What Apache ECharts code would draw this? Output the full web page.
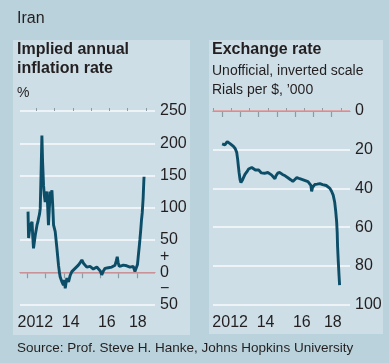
<!DOCTYPE html>
<html>
<head>
<meta charset="utf-8">
<script src="https://cdn.jsdelivr.net/npm/echarts@6/dist/echarts.min.js"></script>
<style>
  html, body { margin: 0; padding: 0; background: #bad2db; }
  #chart { width: 389px; height: 363px; }
</style>
</head>
<body>
<div id="chart"></div>
<script>
// Implied annual inflation rate, % (decimal year, value)
const inflationYears = [
  2012.04, 2012.07, 2012.10, 2012.16, 2012.22, 2012.26, 2012.30, 2012.34, 2012.40, 2012.44,
  2012.50, 2012.53, 2012.58, 2012.62, 2012.67, 2012.71, 2012.76, 2012.80, 2012.84, 2012.89,
  2012.93, 2012.98, 2013.03, 2013.08, 2013.12, 2013.16, 2013.21, 2013.26, 2013.31, 2013.35,
  2013.40, 2013.44, 2013.53, 2013.62, 2013.71, 2013.76, 2013.80, 2013.85, 2013.90, 2013.98,
  2014.03, 2014.08, 2014.13, 2014.17, 2014.22, 2014.26, 2014.35, 2014.44, 2014.53, 2014.62,
  2014.71, 2014.80, 2014.90, 2014.99, 2015.08, 2015.17, 2015.26, 2015.35, 2015.44, 2015.53,
  2015.62, 2015.72, 2015.81, 2015.90, 2016.00, 2016.08, 2016.17, 2016.26, 2016.35, 2016.44,
  2016.54, 2016.63, 2016.72, 2016.81, 2016.88, 2016.93, 2016.98, 2017.04, 2017.15, 2017.26,
  2017.35, 2017.45, 2017.54, 2017.63, 2017.72, 2017.81, 2017.90, 2017.95, 2017.99, 2018.04,
  2018.08, 2018.13, 2018.17, 2018.22, 2018.26, 2018.30, 2018.32, 2018.35, 2018.39, 2018.40
];
const inflationValues = [
  94, 53, 60, 73, 70, 78, 55, 37, 50, 58,
  68, 73, 78, 84, 90, 99, 160, 212, 170, 135,
  120, 109, 118, 125, 100, 73, 100, 125, 120, 127,
  100, 73, 63, 38, 11, 0, -7, -10, -15, -20,
  -12, -25, -15, -9, -12, -15, -5, 1, 3, 6,
  9, 11, 15, 19, 14, 11, 8, 6, 9, 7,
  5, 6, 8, 9, 2, -4, 2, 6, 5, 7,
  9, 8, 10, 11, 18, 24, 15, 9, 10, 11,
  9, 10, 9, 8, 9, 9, 1, 2, 4, 12,
  24, 38, 50, 66, 81, 92, 101, 115, 143, 148
];

// Unofficial exchange rate, rials per $, '000 (decimal year, value)
const rateYears = [
  2012.00, 2012.07, 2012.15, 2012.22, 2012.28, 2012.34, 2012.45, 2012.55, 2012.62, 2012.72,
  2012.80, 2012.85, 2012.89, 2012.93, 2012.98, 2013.03, 2013.07, 2013.12, 2013.17, 2013.25,
  2013.35, 2013.45, 2013.55, 2013.62, 2013.72, 2013.82, 2013.92, 2014.00, 2014.07, 2014.15,
  2014.23, 2014.32, 2014.40, 2014.50, 2014.60, 2014.70, 2014.80, 2014.89, 2014.95, 2015.05,
  2015.16, 2015.30, 2015.45, 2015.60, 2015.75, 2015.87, 2015.95, 2016.09, 2016.25, 2016.40,
  2016.55, 2016.70, 2016.80, 2016.86, 2016.90, 2016.95, 2017.07, 2017.20, 2017.35, 2017.50,
  2017.60, 2017.70, 2017.80, 2017.90, 2017.99, 2018.08, 2018.16, 2018.22, 2018.27, 2018.30,
  2018.32, 2018.36, 2018.40, 2018.43
];
const rateValues = [
  17, 16.6, 17.5, 16.5, 15.8, 16.3, 17, 17.8, 18.3, 19.5,
  21.5, 25, 28.6, 32, 35.4, 37, 38, 35.5, 36.5, 32.8,
  31.5, 30, 29.5, 29.2, 29.5, 30.5, 30, 30.5, 31.1, 32,
  32.8, 32.2, 31.5, 31.8, 32, 33, 34, 35, 33.5, 32,
  31.8, 32.8, 33.5, 34.5, 35.5, 36.4, 35.5, 34.4, 35, 35.5,
  36, 36.5, 37, 38.5, 41.5, 39.5, 38, 37.8, 37.5, 38,
  38, 38.5, 39.5, 40, 41.5, 43.5, 47, 52, 57.4, 63,
  70, 78, 85, 90
];

// Axis ticks and labels
const yearTicks = [2012, 2013, 2014, 2015, 2016, 2017, 2018];
const halfYearTicks = [2011.5, 2012.5, 2013.5, 2014.5, 2015.5, 2016.5, 2017.5, 2018.5];
const yearLabelPos = [2012.44, 2014.38, 2016.36, 2018.06];
const yearLabelText = ['2012', '14', '16', '18'];
const inflationTicks = [250, 200, 150, 100, 50, 25, 0, -25, -50];
const inflationTickText = ['250', '200', '150', '100', '50', '+', '0', '\u2212', '50'];
const rateTicks = [0, 20, 40, 60, 80, 100];

const FONT = '"Liberation Sans", Arial, sans-serif';
const TEXT = '#231f20';
const LINE = '#0c4d68';
const ZERO = '#dd8f93';
const GRIDLINE = '#edf3f6';
const AXIS = '#8c9ca5';

function pairs(xs, ys) { return xs.map((x, i) => [x, ys[i]]); }

function mainX(gridIndex, min) {
  return {
    type: 'value', gridIndex, min, max: 2019,
    splitLine: { show: false },
    axisLine: { show: true, lineStyle: { color: AXIS, width: 1.2 } },
    axisTick: { show: true, customValues: yearTicks, length: 6, lineStyle: { color: AXIS, width: 1.2 } },
    axisLabel: {
      show: true, customValues: yearLabelPos, margin: 10,
      fontFamily: FONT, fontSize: 16, color: TEXT,
      formatter: v => {
        const i = yearLabelPos.findIndex(p => Math.abs(p - v) < 1e-6);
        return i >= 0 ? yearLabelText[i] : '';
      }
    }
  };
}
function minorX(gridIndex, min) {
  return {
    type: 'value', gridIndex, min, max: 2019,
    splitLine: { show: false },
    axisLine: { show: false },
    axisTick: { show: true, customValues: halfYearTicks, length: 3, lineStyle: { color: AXIS, width: 1 } },
    axisLabel: { show: false }
  };
}

const chart = echarts.init(document.getElementById('chart'), null, { renderer: 'canvas' });

chart.setOption({
  backgroundColor: '#bad2db',
  animation: false,
  graphic: [
    { type: 'rect', left: 13, top: 40, shape: { width: 177, height: 295 }, style: { fill: '#cddee6' }, silent: true, z: -10 },
    { type: 'rect', left: 209, top: 40, shape: { width: 174, height: 294 }, style: { fill: '#cddee6' }, silent: true, z: -10 },
    { type: 'text', left: 17, top: 11, style: { text: 'Iran', font: '16px ' + FONT, fill: TEXT } },
    { type: 'text', left: 17, top: 42, style: { text: 'Implied annual', font: 'bold 16px ' + FONT, fill: TEXT } },
    { type: 'text', left: 17, top: 61, style: { text: 'inflation rate', font: 'bold 16px ' + FONT, fill: TEXT } },
    { type: 'text', left: 17, top: 86, style: { text: '%', font: '14px ' + FONT, fill: TEXT } },
    { type: 'text', left: 212, top: 42, style: { text: 'Exchange rate', font: 'bold 16px ' + FONT, fill: TEXT } },
    { type: 'text', left: 212, top: 64, style: { text: 'Unofficial, inverted scale', font: '14px ' + FONT, fill: TEXT } },
    { type: 'text', left: 212, top: 83, style: { text: 'Rials per $, \u2019000', font: '14px ' + FONT, fill: TEXT } },
    { type: 'text', left: 17, top: 341, style: { text: 'Source: Prof. Steve H. Hanke, Johns Hopkins University', font: '13.5px ' + FONT, fill: TEXT } }
  ],
  grid: [
    { left: 20, right: 234, top: 111, bottom: 58.5 },
    { left: 213, right: 39, top: 111, bottom: 58.5 }
  ],
  xAxis: [mainX(0, 2011.6), mainX(1, 2011.5), minorX(0, 2011.6), minorX(1, 2011.5)],
  yAxis: [
    {
      type: 'value', gridIndex: 0, position: 'right', min: -50, max: 250, interval: 50,
      axisLine: { show: false }, axisTick: { show: false },
      splitLine: { show: true, lineStyle: { color: GRIDLINE, width: 1.8 } },
      axisLabel: {
        customValues: inflationTicks, margin: 5, fontFamily: FONT, fontSize: 16, color: TEXT,
        formatter: v => inflationTickText[inflationTicks.indexOf(v)] ?? ''
      }
    },
    {
      type: 'value', gridIndex: 1, position: 'right', inverse: true, min: 0, max: 100, interval: 20,
      axisLine: { show: false }, axisTick: { show: false },
      splitLine: { show: true, lineStyle: { color: GRIDLINE, width: 1.8 } },
      axisLabel: {
        customValues: rateTicks, margin: 5, fontFamily: FONT, fontSize: 16, color: TEXT
      }
    }
  ],
  series: [
    {
      type: 'line', xAxisIndex: 0, yAxisIndex: 0, data: pairs(inflationYears, inflationValues),
      showSymbol: false, lineStyle: { color: LINE, width: 2.9 }, z: 5,
      markLine: {
        silent: true, symbol: 'none', label: { show: false }, z: 3,
        lineStyle: { color: ZERO, width: 1.6, type: 'solid' },
        data: [{ yAxis: 0 }]
      }
    },
    {
      type: 'line', xAxisIndex: 1, yAxisIndex: 1, data: pairs(rateYears, rateValues),
      showSymbol: false, lineStyle: { color: LINE, width: 2.9 }, z: 5,
      markLine: {
        silent: true, symbol: 'none', label: { show: false }, z: 3,
        lineStyle: { color: ZERO, width: 1.6, type: 'solid' },
        data: [{ yAxis: 0 }]
      }
    }
  ]
});
</script>
</body>
</html>
